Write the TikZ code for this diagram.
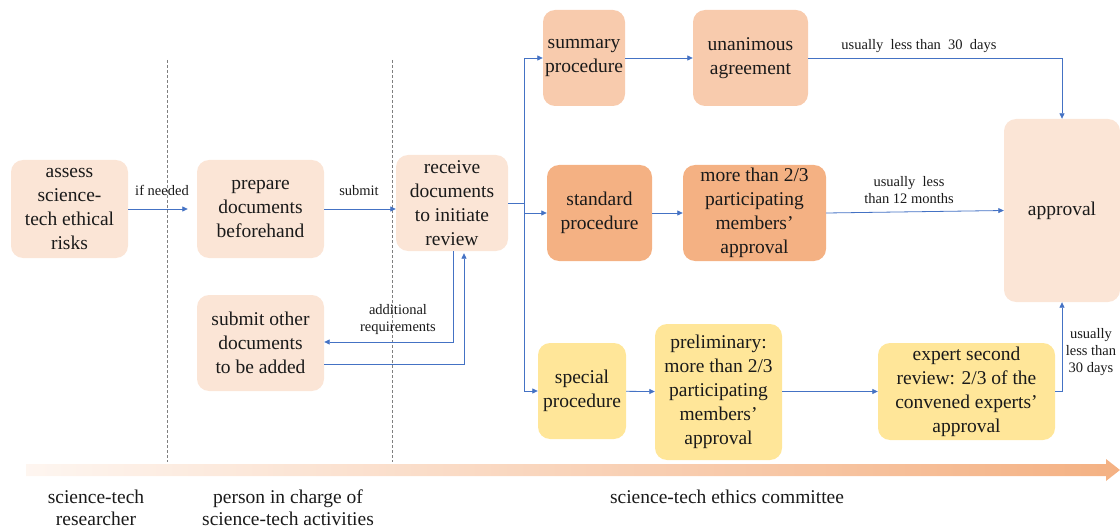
\documentclass[tikz,border=0pt]{standalone}
\usepackage{fontspec}
\setmainfont{Liberation Serif}
\usetikzlibrary{arrows.meta,calc}

\definecolor{lightpeach}{HTML}{FBE5D6}
\definecolor{midpeach}{HTML}{F8CBAD}
\definecolor{darkpeach}{HTML}{F4B183}
\definecolor{softyellow}{HTML}{FFE699}
\definecolor{flowblue}{HTML}{4472C4}
\definecolor{lanegray}{HTML}{7F7F7F}
\definecolor{inktext}{HTML}{1A1A1A}

\tikzset{
  box/.style={rounded corners=12pt, align=center, inner sep=2pt,
    text=inktext, font=\fontsize{19.5}{24}\selectfont},
  flow/.style={draw=flowblue, line width=0.8pt,
    -{Triangle[length=5.5pt,width=5pt]}},
  flowline/.style={draw=flowblue, line width=0.8pt},
  lbl/.style={align=center, inner sep=1pt, text=inktext,
    font=\fontsize{14.5}{17}\selectfont},
  lane/.style={align=center, inner sep=1pt, text=inktext,
    font=\fontsize{19.5}{22}\selectfont},
  divider/.style={draw=lanegray, line width=0.6pt, dash pattern=on 3pt off 2pt}
}

\begin{document}
\begin{tikzpicture}[x=1pt,y=-1pt]
\useasboundingbox (0,0) rectangle (1120,532);

% lane dividers
\draw[divider] (167,60) -- (167,462);
\draw[divider] (392,60) -- (392,462);

% researcher / person in charge
\node[box, fill=lightpeach, minimum width=117pt, minimum height=98pt] (assess) at (69.5,209) {assess\\science-\\tech ethical\\risks};
\node[box, fill=lightpeach, minimum width=127pt, minimum height=98pt] (prepare) at (260.5,209) {prepare\\documents\\beforehand};
\node[box, fill=lightpeach, minimum width=127pt, minimum height=96pt] (submitother) at (260.5,343) {submit other\\documents\\to be added};

% committee
\node[box, fill=lightpeach, minimum width=112pt, minimum height=96pt] (receive) at (452,203) {receive\\documents\\to initiate\\review};
\node[box, fill=midpeach, minimum width=82pt, minimum height=96pt] (summary) at (584,58) {summary\\procedure};
\node[box, fill=midpeach, minimum width=115pt, minimum height=96pt] (unanimous) at (750.5,58) {unanimous\\agreement};
\node[box, fill=darkpeach, minimum width=105pt, minimum height=96pt] (standard) at (599.5,213) {standard\\procedure};
\node[box, fill=darkpeach, minimum width=143pt, minimum height=96pt] (morethan) at (754.5,213) {more than 2/3\\participating\\members’\\approval};
\node[box, fill=softyellow, minimum width=88pt, minimum height=96pt] (special) at (582,391) {special\\procedure};
\node[box, fill=softyellow, minimum width=127pt, minimum height=136pt] (prelim) at (718.5,392) {preliminary:\\more than 2/3\\participating\\members’\\approval};
\node[box, fill=softyellow, minimum width=177pt, minimum height=97pt] (expert) at (966.5,391.5) {expert second\\review: 2/3 of the\\convened experts’\\approval};
\node[box, fill=lightpeach, minimum width=116pt, minimum height=183pt] (approval) at (1062,210.5) {approval};

% main flow
\draw[flow, shorten >=9pt] (assess) -- (prepare);
\node[lbl] (lneeded) at (162,190) {if needed};
\draw[flow] (prepare.east) -- (prepare.east -| receive.west);
\node[lbl] (lsubmit) at (359,191) {submit};

% branching to the three procedures
\coordinate (split) at (524,203);
\draw[flowline] (receive.east) -- (split);
\draw[flow] (split) |- (summary.west);
\draw[flow] (split) |- (standard.west);
\draw[flow] (split) |- (special.west);

\draw[flow] (summary) -- (unanimous);
\draw[flow] (standard) -- (morethan);
\draw[flow] (special) -- (prelim);
\draw[flow] (prelim.east |- expert.west) -- (expert.west);

% towards approval
\draw[flow] (unanimous.east) -| (approval.north);
\node[lbl] (l30a) at (919,46) {usually\ \ less than\ \ 30\ \ days};
\draw[flow] (morethan.east) -- (approval.west);
\node[lbl] (l12) at (909,190) {usually\ \ less\\than 12 months};
\draw[flow] (expert.east) -| (approval.south);
\node[lbl] (l30b) at (1091,352) {usually\\less than\\30 days};

% request for additional documents
\draw[flow] ($(receive.south)+(1,0)$) |- ($(submitother.east)+(0,-1)$);
\node[lbl] (ladd) at (398,320) {additional\\requirements};
\draw[flow] ($(submitother.east)+(0,21)$) -| ($(receive.south)+(12,2)$);

% timeline arrow
\shade[left color=darkpeach!12!white, right color=darkpeach]
  (26,464) -- (1106,464) -- (1106,459) -- (1120,470) -- (1106,481)
  -- (1106,476) -- (26,476) -- cycle;

% lanes
\node[lane] (researcher) at (96,508) {science-tech\\researcher};
\node[lane] (incharge) at (288,508) {person in charge of\\science-tech activities};
\node[lane] (committee) at (727,497) {science-tech ethics committee};
\end{tikzpicture}
\end{document}
